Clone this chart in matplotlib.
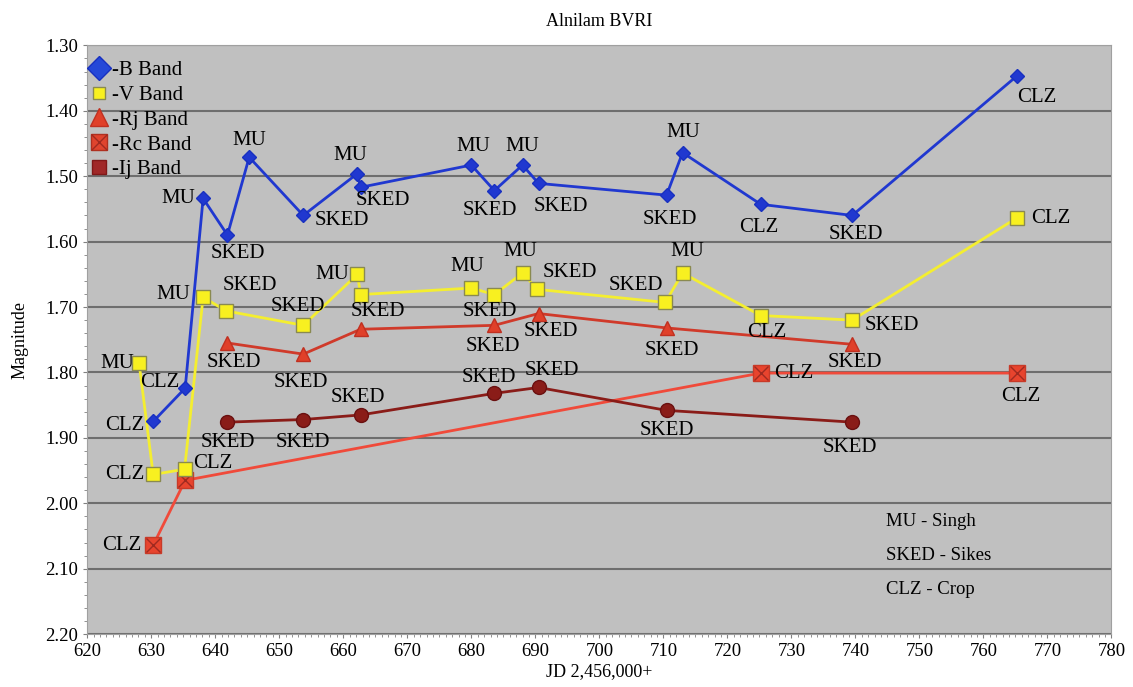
import numpy as np
import matplotlib
matplotlib.use("Agg")
import matplotlib.pyplot as plt
from matplotlib.lines import Line2D
from matplotlib.ticker import MultipleLocator, FormatStrFormatter

plt.rcParams["font.family"] = ["Liberation Serif", "DejaVu Serif"]

# B band
b_jd = [630.3, 635.3, 638.1, 641.9, 645.3, 653.75, 662.2, 662.7, 680.0, 683.6,
        688.0, 690.5, 710.5, 713.0, 725.2, 739.5, 765.2]
b_mag = [1.875, 1.824, 1.534, 1.590, 1.471, 1.560, 1.496, 1.517, 1.483, 1.522,
         1.483, 1.511, 1.529, 1.464, 1.543, 1.560, 1.347]
b_obs = ["CLZ", "CLZ", "MU", "SKED", "MU", "SKED", "MU", "SKED", "MU", "SKED",
         "MU", "SKED", "SKED", "MU", "CLZ", "SKED", "CLZ"]

# V band
v_jd = [628.1, 630.3, 635.2, 638.1, 641.7, 653.75, 662.2, 662.7, 680.0, 683.6,
        688.0, 690.3, 710.3, 713.0, 725.2, 739.5, 765.2]
v_mag = [1.786, 1.956, 1.948, 1.685, 1.706, 1.728, 1.650, 1.681, 1.671, 1.681,
         1.648, 1.673, 1.693, 1.648, 1.713, 1.720, 1.564]
v_obs = ["MU", "CLZ", "CLZ", "MU", "SKED", "SKED", "MU", "SKED", "MU", "SKED",
         "MU", "SKED", "SKED", "MU", "CLZ", "SKED", "CLZ"]

# Rj band
rj_jd = [641.9, 653.75, 662.7, 683.6, 690.5, 710.5, 739.5]
rj_mag = [1.755, 1.772, 1.734, 1.728, 1.710, 1.732, 1.757]
rj_obs = ["SKED", "SKED", "", "SKED", "SKED", "SKED", "SKED"]

# Rc band
rc_jd = [630.3, 635.3, 725.2, 765.2]
rc_mag = [2.064, 1.965, 1.801, 1.801]
rc_obs = ["CLZ", "", "CLZ", "CLZ"]

# Ij band
ij_jd = [641.9, 653.75, 662.7, 683.6, 690.5, 710.5, 739.5]
ij_mag = [1.876, 1.872, 1.865, 1.832, 1.823, 1.858, 1.876]
ij_obs = ["SKED", "SKED", "SKED", "SKED", "SKED", "SKED", "SKED"]

# label offsets in pixels (dx, dy)
b_off = [(-28, -4), (-25, 6), (-25, 0), (10, -18), (0, 17), (39, -5), (-7, 18),
         (22, -13), (2, 19), (-4, -20), (0, 19), (22, -23), (3, -24), (1, 20),
         (-2, -23), (4, -19), (20, -21)]
v_off = [(-22, 0), (-28, 0), (28, 6), (-30, 3), (24, 25), (-5, 19), (-25, 0),
         (17, -17), (-4, 22), (-4, -17), (-2, 21), (33, 17), (-29, 17), (5, 21),
         (6, -17), (40, -5), (34, 0)]
rj_off = [(6, -20), (-2, -28), (0, 0), (-1, -21), (12, -18), (5, -23), (3, -18)]
rc_off = [(-31, 0), (0, 0), (33, 0), (4, -23)]
ij_off = [(0, -20), (0, -23), (-3, 17), (-5, 16), (13, 17), (0, -20), (-2, -25)]

fig = plt.figure(figsize=(11.33, 6.87), dpi=100)
ax = fig.add_axes([0.077, 0.077, 0.904, 0.857])
ax.set_facecolor("#c0c0c0")

ax.plot(b_jd, b_mag, color="#2038d0", lw=2, marker="D", ms=7,
        mfc="#2038d0", mec="#1830c0", zorder=5)
ax.plot(v_jd, v_mag, color="#f4ee30", lw=2, marker="s", ms=10,
        mfc="#f8f020", mec="#8a8a50", zorder=4)
ax.plot(rj_jd, rj_mag, color="#d03a2a", lw=2, marker="^", ms=10,
        mfc="#e0402a", mec="#c03020", zorder=4)
ax.plot(rc_jd, rc_mag, color="#f04a3a", lw=2, marker="s", ms=12,
        mfc="#e8442e", mec="#c83a28", zorder=3)
ax.plot(rc_jd, rc_mag, ls="none", marker="x", ms=10, mec="#a02a20",
        mew=1, zorder=3)
ax.plot(ij_jd, ij_mag, color="#8a1c18", lw=2, marker="o", ms=10,
        mfc="#8a1c18", mec="#6a1010", zorder=4)

for xs, ys, labs, offs in [(b_jd, b_mag, b_obs, b_off),
                           (v_jd, v_mag, v_obs, v_off),
                           (rj_jd, rj_mag, rj_obs, rj_off),
                           (rc_jd, rc_mag, rc_obs, rc_off),
                           (ij_jd, ij_mag, ij_obs, ij_off)]:
    for x, y, lab, (dx, dy) in zip(xs, ys, labs, offs):
        if lab:
            ax.annotate(lab, (x, y), xytext=(dx, dy), textcoords="offset pixels",
                        ha="center", va="center", fontsize=15, zorder=6)

ax.set_xlim(620, 780)
ax.set_ylim(2.20, 1.30)
ax.xaxis.set_major_locator(MultipleLocator(10))
ax.xaxis.set_minor_locator(MultipleLocator(1))
ax.yaxis.set_major_locator(MultipleLocator(0.1))
ax.yaxis.set_minor_locator(MultipleLocator(0.02))
ax.yaxis.set_major_formatter(FormatStrFormatter("%.2f"))
ax.grid(axis="y", which="major", color="#6e6e6e", lw=1.5)
ax.set_axisbelow(True)
ax.tick_params(labelsize=13.5, length=3, color="#808080")
ax.tick_params(which="minor", length=2, color="#808080")
for s in ax.spines.values():
    s.set_color("#a0a0a0")

ax.set_title("Alnilam BVRI", fontsize=13, pad=14)
ax.set_xlabel("JD 2,456,000+", fontsize=13, labelpad=2)
ax.set_ylabel("Magnitude", fontsize=13, labelpad=12)

# legend with marker-only handles
h_b = Line2D([], [], ls="none", marker="D", ms=12, mfc="#2548d8", mec="#1830c0")
h_v = Line2D([], [], ls="none", marker="s", ms=9, mfc="#f8f020", mec="#8a8a50")
h_rj = Line2D([], [], ls="none", marker="^", ms=13, mfc="#e0402a", mec="#c03020")
h_rc1 = Line2D([], [], ls="none", marker="s", ms=12, mfc="#e0442e", mec="#b03020")
h_rc2 = Line2D([], [], ls="none", marker="x", ms=11, mec="#a02a20", mew=1)
h_ij = Line2D([], [], ls="none", marker="s", ms=10, mfc="#a02828", mec="#801818")
ax.legend([h_b, h_v, h_rj, (h_rc1, h_rc2), h_ij],
          ["-B Band", "-V Band", "-Rj Band", "-Rc Band", "-Ij Band"],
          loc="upper left", bbox_to_anchor=(-0.008, 0.99), frameon=False,
          fontsize=15, handlelength=1.0, handletextpad=0.15, borderaxespad=0.15,
          labelspacing=0.25, borderpad=0.3)

ax.text(0.78, 0.205, "MU - Singh\n\nSKED - Sikes\n\nCLZ - Crop",
        transform=ax.transAxes, ha="left", va="top", fontsize=13.5,
        linespacing=1.0)

fig.savefig("out.png", dpi=100)
